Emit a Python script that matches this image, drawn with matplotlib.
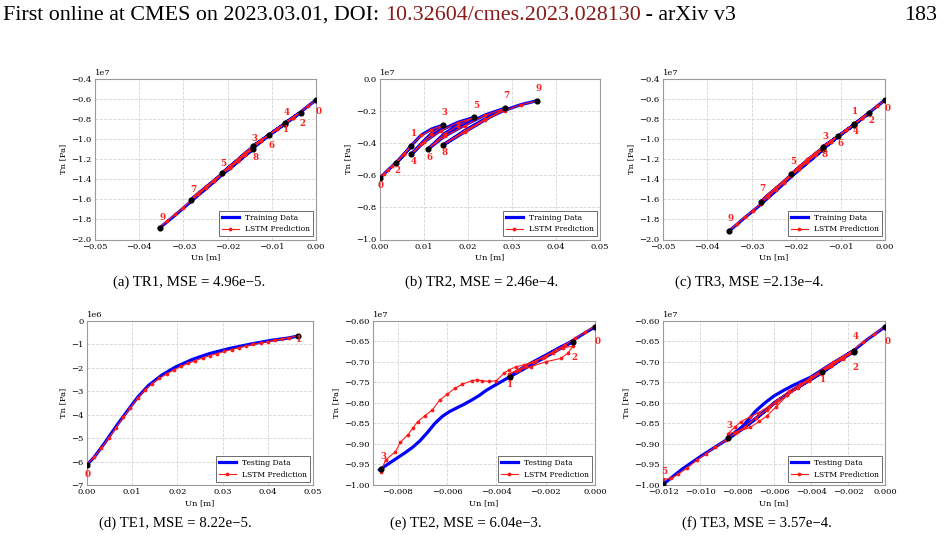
import numpy as np
import matplotlib
matplotlib.use("Agg")
import matplotlib.pyplot as plt
from matplotlib.ticker import MultipleLocator

plt.rcParams["font.family"] = "serif"
plt.rcParams["font.serif"] = ["DejaVu Serif"]

# ---- data: Un in m, Tn in MPa (plotted in Pa) ----

# TR1
tr1_un = [0, -0.0018, -0.0035, -0.0053, -0.0071,
          -0.0053, -0.0035,
          -0.0053, -0.0071, -0.0089, -0.0106, -0.0124, -0.0142,
          -0.0124, -0.0106, -0.0089, -0.0071,
          -0.0089, -0.0106, -0.0124, -0.0142, -0.016, -0.0177, -0.0195, -0.0213,
          -0.0195, -0.0177, -0.016, -0.0142, -0.0124, -0.0106,
          -0.0124, -0.0142, -0.016, -0.0177, -0.0195, -0.0213, -0.023, -0.0248, -0.0266, -0.0283,
          -0.0266, -0.0248, -0.023, -0.0213, -0.0195, -0.0177, -0.016, -0.0142,
          -0.016, -0.0177, -0.0195, -0.0213, -0.023, -0.0248, -0.0266, -0.0283, -0.0301, -0.0318, -0.0336, -0.0354]
tr1_tn = [-6.10, -6.70, -7.30, -7.87, -8.42,
          -7.90, -7.35,
          -7.92, -8.47, -9.02, -9.56, -10.12, -10.68,
          -10.15, -9.60, -9.05, -8.50,
          -9.05, -9.60, -10.16, -10.74, -11.38, -12.05, -12.72, -13.40,
          -12.75, -12.10, -11.45, -10.82, -10.20, -9.58,
          -10.22, -10.85, -11.48, -12.12, -12.78, -13.45, -14.10, -14.75, -15.40, -16.05,
          -15.45, -14.80, -14.17, -13.53, -12.88, -12.25, -11.62, -10.98,
          -11.60, -12.25, -12.90, -13.55, -14.22, -14.90, -15.57, -16.22, -16.90, -17.55, -18.20, -18.85]
tr1_pred_tn = [-6.12, -6.68, -7.27, -7.84, -8.40,
               -7.88, -7.33,
               -7.89, -8.44, -8.99, -9.53, -10.08, -10.64,
               -10.12, -9.57, -9.02, -8.47,
               -9.02, -9.57, -10.12, -10.70, -11.33, -12.00, -12.67, -13.34,
               -12.70, -12.05, -11.40, -10.78, -10.16, -9.55,
               -10.18, -10.80, -11.43, -12.07, -12.73, -13.39, -14.04, -14.69, -15.34, -15.98,
               -15.40, -14.75, -14.12, -13.48, -12.83, -12.20, -11.57, -10.93,
               -11.55, -12.20, -12.85, -13.50, -14.16, -14.84, -15.50, -16.15, -16.83, -17.48, -18.13, -18.78]
tr1_pts_un = [0, -0.0071, -0.0035, -0.0142, -0.0071, -0.0213, -0.0106, -0.0283, -0.0142, -0.0354]
tr1_pts_tn = [-6.10, -8.42, -7.35, -10.68, -8.50, -13.40, -9.58, -16.05, -10.98, -18.85]

# TR2
tr2_un = [0, 0.0009, 0.0018, 0.0027, 0.0036, 0.0054, 0.0071,
          0.0054, 0.0036,
          0.0054, 0.0071, 0.0094, 0.0117, 0.0143,
          0.0117, 0.0094, 0.0071,
          0.0101, 0.0139, 0.0177, 0.0214,
          0.0177, 0.0147, 0.0108,
          0.0147, 0.0193, 0.0238, 0.0283,
          0.0238, 0.0193, 0.0143,
          0.0193, 0.0238, 0.0283, 0.032, 0.0357]
tr2_tn = [-6.15, -5.92, -5.68, -5.45, -5.22, -4.72, -4.18,
          -4.72, -5.26,
          -4.72, -4.15, -3.49, -3.12, -2.87,
          -3.39, -4.01, -4.70,
          -3.91, -3.18, -2.70, -2.39,
          -2.87, -3.39, -4.39,
          -3.56, -2.87, -2.25, -1.83,
          -2.56, -3.29, -4.12,
          -3.20, -2.50, -1.95, -1.60, -1.35]
tr2_pred_tn = [-6.13, -5.90, -5.66, -5.43, -5.20, -4.70, -4.16,
               -4.70, -5.24,
               -4.70, -4.13, -3.52, -3.15, -2.89,
               -3.42, -4.04, -4.68,
               -3.93, -3.21, -2.72, -2.40,
               -2.90, -3.42, -4.37,
               -3.58, -2.90, -2.27, -1.84,
               -2.58, -3.31, -4.10,
               -3.22, -2.52, -1.97, -1.61, -1.36]
tr2_pts_un = [0, 0.0071, 0.0036, 0.0143, 0.0071, 0.0214, 0.0108, 0.0283, 0.0143, 0.0357]
tr2_pts_tn = [-6.15, -4.18, -5.26, -2.87, -4.70, -2.39, -4.39, -1.83, -4.12, -1.35]

# TR3
tr3_un = [0, -0.0018, -0.0035, -0.0052, -0.0069,
          -0.0052, -0.0035,
          -0.0052, -0.0069, -0.0087, -0.0105, -0.0122, -0.0139,
          -0.0122, -0.0105, -0.0087, -0.0069,
          -0.0087, -0.0105, -0.0122, -0.0139, -0.0157, -0.0175, -0.0193, -0.0211,
          -0.0193, -0.0175, -0.0157, -0.0139, -0.0122, -0.0105,
          -0.0122, -0.0139, -0.0157, -0.0175, -0.0193, -0.0211, -0.0228, -0.0245, -0.0263, -0.028,
          -0.0263, -0.0245, -0.0228, -0.0211, -0.0193, -0.0175, -0.0157, -0.0139,
          -0.0157, -0.0175, -0.0193, -0.0211, -0.0228, -0.0245, -0.0263, -0.028, -0.0298, -0.0316, -0.0333, -0.0351]
tr3_tn = [-6.10, -6.72, -7.34, -7.93, -8.50,
          -7.95, -7.38,
          -7.96, -8.53, -9.11, -9.69, -10.22, -10.75,
          -10.25, -9.72, -9.13, -8.55,
          -9.12, -9.70, -10.26, -10.82, -11.45, -12.10, -12.78, -13.48,
          -12.82, -12.18, -11.55, -10.92, -10.30, -9.70,
          -10.32, -10.95, -11.58, -12.22, -12.88, -13.55, -14.22, -14.88, -15.55, -16.25,
          -15.60, -14.96, -14.32, -13.68, -13.02, -12.36, -11.68, -11.02,
          -11.66, -12.34, -13.02, -13.72, -14.42, -15.12, -15.82, -16.52, -17.18, -17.82, -18.48, -19.14]
tr3_pred_tn = [-6.12, -6.70, -7.31, -7.90, -8.47,
               -7.92, -7.35,
               -7.92, -8.49, -9.07, -9.64, -10.17, -10.70,
               -10.20, -9.67, -9.09, -8.51,
               -9.07, -9.64, -10.19, -10.74, -11.36, -12.00, -12.68, -13.40,
               -12.74, -12.10, -11.47, -10.86, -10.25, -9.66,
               -10.26, -10.88, -11.50, -12.13, -12.78, -13.45, -14.13, -14.80, -15.48, -16.18,
               -15.52, -14.88, -14.24, -13.60, -12.94, -12.28, -11.61, -10.96,
               -11.58, -12.25, -12.93, -13.62, -14.32, -15.03, -15.74, -16.45, -17.12, -17.77, -18.43, -19.08]
tr3_pts_un = [0, -0.0069, -0.0035, -0.0139, -0.0069, -0.0211, -0.0105, -0.028, -0.0139, -0.0351]
tr3_pts_tn = [-6.10, -8.50, -7.38, -10.75, -8.55, -13.48, -9.70, -16.25, -11.02, -19.14]

# TE1
te1_un = [0, 0.0016, 0.0038, 0.0068, 0.0098, 0.0113, 0.0136, 0.0166, 0.0196, 0.0233,
          0.0271, 0.0316, 0.0361, 0.0406, 0.0444, 0.0466]
te1_tn = [-6.14, -5.81, -5.24, -4.40, -3.62, -3.24, -2.76, -2.31, -1.97, -1.65,
          -1.40, -1.18, -1.00, -0.84, -0.74, -0.66]
te1_pred_un = [0, 0.0016, 0.0032, 0.0048, 0.0064, 0.008, 0.0096, 0.0112, 0.0128, 0.0144,
               0.016, 0.0176, 0.0192, 0.0208, 0.0224, 0.024, 0.0256, 0.0272, 0.0288, 0.0304,
               0.032, 0.0336, 0.0352, 0.0368, 0.0384, 0.04, 0.0416, 0.0432, 0.0448, 0.0466]
te1_pred_tn = [-6.12, -5.80, -5.42, -5.00, -4.56, -4.12, -3.70, -3.30, -2.96, -2.68,
               -2.46, -2.27, -2.10, -1.95, -1.82, -1.70, -1.59, -1.49, -1.40, -1.31,
               -1.23, -1.15, -1.08, -1.01, -0.95, -0.89, -0.83, -0.77, -0.72, -0.65]
te1_pts_un = [0, 0.0466]
te1_pts_tn = [-6.14, -0.64]

# TE2
te2_un = [0, -0.0005, -0.001, -0.0015, -0.002, -0.0025, -0.003, -0.0035,
          -0.003, -0.0025, -0.002, -0.0015, -0.0009,
          -0.0015, -0.002, -0.0025, -0.003, -0.0035, -0.004, -0.0044, -0.0047, -0.005,
          -0.0053, -0.0056, -0.0059, -0.0062, -0.0065, -0.0068, -0.0071, -0.0074,
          -0.0077, -0.008, -0.0083, -0.00855, -0.00875]
te2_tn = [-6.15, -6.33, -6.52, -6.68, -6.86, -7.02, -7.19, -7.36,
          -7.17, -7.00, -6.84, -6.68, -6.51,
          -6.71, -6.88, -7.05, -7.21, -7.38, -7.55, -7.69, -7.82, -7.93,
          -8.03, -8.12, -8.21, -8.33, -8.50, -8.72, -8.92, -9.08,
          -9.21, -9.33, -9.45, -9.55, -9.63]
te2_pred_un = [0, -0.0004, -0.0008, -0.0012, -0.0016, -0.002, -0.0024, -0.0028, -0.0032, -0.0035,
               -0.0031, -0.0026, -0.002, -0.0014, -0.0011, -0.0009,
               -0.0013, -0.0017, -0.0021, -0.0025, -0.0029, -0.0032, -0.0035, -0.0037, -0.004,
               -0.0043, -0.0046, -0.0048, -0.005, -0.0054, -0.0057, -0.006, -0.0063, -0.0066,
               -0.0069, -0.0072, -0.0074, -0.0076, -0.0079, -0.0081, -0.0085, -0.0087]
te2_pred_tn = [-6.13, -6.28, -6.43, -6.58, -6.72, -6.85, -6.98, -7.10, -7.22, -7.30,
               -7.20, -7.12, -7.00, -6.92, -6.79, -6.62,
               -6.66, -6.78, -6.90, -7.00, -7.08, -7.12, -7.20, -7.28, -7.46,
               -7.48, -7.46, -7.44, -7.46, -7.55, -7.65, -7.79, -7.93, -8.17,
               -8.31, -8.46, -8.62, -8.78, -8.96, -9.19, -9.39, -9.68]
te2_pts_un = [0, -0.00346, -0.00091, -0.0087]
te2_pts_tn = [-6.15, -7.36, -6.51, -9.62]

# TE3
te3_un = [0, -0.0005, -0.001, -0.0017, -0.0025, -0.0034,
          -0.0025, -0.0017,
          -0.0025, -0.0034, -0.004, -0.005, -0.0055, -0.006, -0.0065, -0.007, -0.0077, -0.0085,
          -0.0077, -0.007, -0.0065, -0.006, -0.0055, -0.005, -0.004, -0.003, -0.0017,
          -0.0025, -0.0034, -0.004, -0.005, -0.006, -0.007, -0.0077, -0.0085, -0.009, -0.01,
          -0.011, -0.012]
te3_tn = [-6.15, -6.31, -6.47, -6.73, -6.96, -7.25,
          -6.98, -6.75,
          -6.97, -7.25, -7.42, -7.69, -7.85, -8.00, -8.20, -8.38, -8.62, -8.85,
          -8.57, -8.20, -8.00, -7.83, -7.70, -7.58, -7.37, -7.08, -6.73,
          -6.98, -7.26, -7.43, -7.70, -8.01, -8.39, -8.63, -8.88, -9.02, -9.31,
          -9.62, -9.98]
te3_pred_un = [0, -0.0006, -0.0012, -0.0018, -0.0024, -0.003, -0.0034,
               -0.0029, -0.0023, -0.0017,
               -0.0023, -0.0029, -0.0035, -0.0041, -0.0047, -0.0053, -0.0059, -0.0064, -0.0068,
               -0.0073, -0.008, -0.0085,
               -0.0081, -0.0078, -0.0073, -0.0069, -0.0063, -0.0058, -0.0052, -0.0046, -0.004,
               -0.0034, -0.0028, -0.0022, -0.0017,
               -0.0023, -0.0029, -0.0035, -0.0041, -0.0047, -0.0053, -0.0059, -0.0064, -0.007,
               -0.0076, -0.0081, -0.0086, -0.0092, -0.0097, -0.0102, -0.0107, -0.0112, -0.0116,
               -0.012]
te3_pred_tn = [-6.14, -6.33, -6.53, -6.74, -6.92, -7.10, -7.22,
               -7.08, -6.90, -6.76,
               -6.93, -7.10, -7.27, -7.44, -7.62, -7.82, -8.10, -8.32, -8.45,
               -8.60, -8.70, -8.75,
               -8.58, -8.46, -8.34, -8.25, -8.09, -7.92, -7.72, -7.55, -7.38,
               -7.19, -7.01, -6.86, -6.74,
               -6.92, -7.10, -7.28, -7.46, -7.63, -7.82, -8.00, -8.17, -8.37,
               -8.59, -8.74, -8.90, -9.08, -9.24, -9.40, -9.58, -9.74, -9.84,
               -9.86]
te3_pts_un = [0, -0.0034, -0.0017, -0.0085, -0.0017, -0.012]
te3_pts_tn = [-6.15, -7.26, -6.75, -8.86, -6.74, -9.98]

captions = ["(a) TR1, MSE = 4.96e\u22125.", "(b) TR2, MSE = 2.46e\u22124.",
            "(c) TR3, MSE =2.13e\u22124.", "(d) TE1, MSE = 8.22e\u22125.",
            "(e) TE2, MSE = 6.04e\u22123.", "(f) TE3, MSE = 3.57e\u22124."]

# label offsets (px right, px down) of the turning point numbers
tr1_off = [(2.7, 11.3), (1.7, 6), (1.7, 11), (1.7, -7.7), (1.7, -11.7),
           (1.7, -10), (2, 11), (2, -10.7), (2.3, 8.3), (2.7, -10.7)]
tr2_off = [(1, 7.7), (2.3, -12.7), (1.7, 7), (1.7, -12.3), (2.3, 7),
           (2, -12.3), (2.3, 7.7), (1.7, -13), (1.7, 7), (1.7, -12)]
tr3_off = [(3, 8.3), (0.7, -12.7), (2.3, 8), (1.7, -10), (1.7, 7.3),
           (1.7, -12.3), (1.7, 7.3), (1.7, -13.3), (1, 5), (1.7, -12)]
te1_off = [(1, 10), (1.7, 4)]
te2_off = [(2.7, 14.3), (0.3, 8.3), (2.3, 15.7), (2.3, -12.7)]
te3_off = [(2.7, 15), (1, 7.3), (1.7, 15.7), (1.3, -12.7), (1.7, -15), (1.3, -12.3)]

W, H = 947, 540
fig = plt.figure(figsize=(W / 100, H / 100), dpi=100)


def make_axes(left, top, right, bottom):
    return fig.add_axes([left / W, 1 - bottom / H, (right - left) / W, (bottom - top) / H])


def draw_panel(ax, un, tn, pun, ptn, pts_un, pts_tn, offs, data_label,
               xlim, ylim, xstep, ystep):
    ax.plot(un, np.array(tn) * 1e6, color="#0000ff", lw=2.3, label=data_label, zorder=2)
    ax.plot(pun, np.array(ptn) * 1e6, color="#ff1a1a", lw=0.8, marker="o", ms=1.7,
            label="LSTM Prediction", zorder=3)
    ax.plot(pts_un, np.array(pts_tn) * 1e6, "o", color="black", ms=3.4, zorder=4)
    for i, (x, y) in enumerate(zip(pts_un, pts_tn)):
        dx, dy = offs[i]
        ax.annotate(str(i), (x, y * 1e6), xytext=(dx * 0.72, -dy * 0.72),
                    textcoords="offset points", ha="center", va="center",
                    color="#ff2020", fontsize=6.3, fontweight="bold", zorder=5)
    ax.set_xlim(*xlim)
    ax.set_ylim(ylim[0] * 1e6, ylim[1] * 1e6)
    ax.xaxis.set_major_locator(MultipleLocator(xstep))
    ax.yaxis.set_major_locator(MultipleLocator(ystep * 1e6))
    ax.grid(True, ls="--", color="#d4d4d4", lw=0.6)
    ax.set_axisbelow(True)
    for sp in ax.spines.values():
        sp.set_color("#9a9a9a")
        sp.set_linewidth(0.8)
    ax.tick_params(length=0, labelsize=6, pad=2.5)
    ax.yaxis.get_offset_text().set_fontsize(6)
    ax.set_xlabel("Un [m]", fontsize=6, labelpad=2)
    ax.set_ylabel("Tn [Pa]", fontsize=6, labelpad=3)
    leg = ax.legend(loc="lower right", fontsize=5.5, fancybox=False, framealpha=1,
                    borderaxespad=0.4, handlelength=2.2)
    leg.get_frame().set_edgecolor("#555555")
    leg.get_frame().set_linewidth(0.6)


ax_a = make_axes(95, 79, 316, 239.5)
draw_panel(ax_a, tr1_un, tr1_tn, tr1_un, tr1_pred_tn, tr1_pts_un, tr1_pts_tn, tr1_off,
           "Training Data", (-0.05, 0.0), (-20, -4), 0.01, 2)
ax_b = make_axes(380, 79, 600, 239.5)
draw_panel(ax_b, tr2_un, tr2_tn, tr2_un, tr2_pred_tn, tr2_pts_un, tr2_pts_tn, tr2_off,
           "Training Data", (0.0, 0.05), (-10, 0), 0.01, 2)
ax_c = make_axes(663, 79, 885, 239.5)
draw_panel(ax_c, tr3_un, tr3_tn, tr3_un, tr3_pred_tn, tr3_pts_un, tr3_pts_tn, tr3_off,
           "Training Data", (-0.05, 0.0), (-20, -4), 0.01, 2)
ax_d = make_axes(87, 320.7, 313, 485)
draw_panel(ax_d, te1_un, te1_tn, te1_pred_un, te1_pred_tn, te1_pts_un, te1_pts_tn, te1_off,
           "Testing Data", (0.0, 0.05), (-7, 0), 0.01, 1)
ax_e = make_axes(373.3, 320.7, 595, 485)
draw_panel(ax_e, te2_un, te2_tn, te2_pred_un, te2_pred_tn, te2_pts_un, te2_pts_tn, te2_off,
           "Testing Data", (-0.009, 0.0), (-10, -6), 0.002, 0.5)
ax_f = make_axes(663.3, 320.7, 885, 485)
draw_panel(ax_f, te3_un, te3_tn, te3_pred_un, te3_pred_tn, te3_pts_un, te3_pts_tn, te3_off,
           "Testing Data", (-0.012, 0.0), (-10, -6), 0.002, 0.5)

# captions
cap_pos = [(189, 282), (482, 282), (749, 282), (175, 523), (466, 523), (757, 523)]
for (cx, cy), txt in zip(cap_pos, captions):
    fig.text(cx / W, 1 - cy / H, txt, ha="center", va="center",
             family="Liberation Serif", fontsize=10.7)

# page header
hdr = fig.text(3 / W, 1 - 25 / H, "First online at CMES on 2023.03.01, DOI: ",
               family="Liberation Serif", fontsize=15.8, va="bottom", ha="left")
doi = fig.text(0, 0, "10.32604/cmes.2023.028130", family="Liberation Serif",
               fontsize=15.8, color="#8b1a1a", va="bottom", ha="left")
rest = fig.text(0, 0, " - arXiv v3", family="Liberation Serif", fontsize=15.8,
                va="bottom", ha="left")
fig.text(937 / W, 1 - 25 / H, "183", family="Liberation Serif", fontsize=15.8,
         va="bottom", ha="right")

fig.canvas.draw()
renderer = fig.canvas.get_renderer()
bb = hdr.get_window_extent(renderer)
doi.set_position((bb.x1 / fig.bbox.width, bb.y0 / fig.bbox.height))
fig.canvas.draw()
bb = doi.get_window_extent(renderer)
rest.set_position((bb.x1 / fig.bbox.width, bb.y0 / fig.bbox.height))

fig.savefig("out.png", dpi=100)
